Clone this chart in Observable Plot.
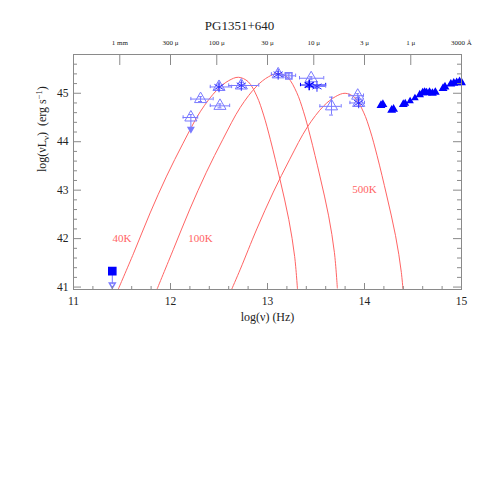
<!DOCTYPE html>
<html><head><meta charset="utf-8">
<script src="https://cdn.jsdelivr.net/npm/d3@7"></script>
<script src="https://cdn.jsdelivr.net/npm/@observablehq/plot@0.6"></script>
<style>body{margin:0;background:#fff}</style>
</head><body><div id="chart"></div>
<script>
// ---- axis definitions ----
const xDomain = [11, 15];
const yDomain = [40.95, 45.8];
const xMajor = [11, 12, 13, 14, 15];
const yMajor = [41, 42, 43, 44, 45];
const wlPos = [11.477, 12, 12.477, 13, 13.477, 14, 14.477, 15];
const wlLabels = ["1 mm", "300 \u03bc", "100 \u03bc", "30 \u03bc", "10 \u03bc", "3 \u03bc", "1 \u03bc", "3000 \u00c5"];

// ---- blackbody model curves ----
const bb40X = [11.46, 11.62, 11.79, 11.96, 12.13, 12.31, 12.48, 12.60, 12.70, 12.80, 12.89, 12.96, 13.03, 13.13, 13.22, 13.28, 13.31];
const bb40Y = [40.95, 41.70, 42.53, 43.29, 43.97, 44.63, 45.07, 45.26, 45.33, 45.24, 44.94, 44.55, 44.04, 43.21, 42.39, 41.63, 40.93];
const bb100X = [11.86, 12.03, 12.20, 12.37, 12.54, 12.72, 12.89, 13.01, 13.11, 13.21, 13.30, 13.37, 13.44, 13.54, 13.63, 13.69, 13.72];
const bb100Y = [40.95, 41.78, 42.61, 43.37, 44.05, 44.71, 45.15, 45.34, 45.41, 45.32, 45.02, 44.63, 44.12, 43.29, 42.47, 41.71, 40.98];
const bb500X = [12.63, 12.72, 12.89, 13.06, 13.23, 13.41, 13.58, 13.70, 13.80, 13.90, 13.99, 14.06, 14.13, 14.23, 14.32, 14.38, 14.41];
const bb500Y = [40.95, 41.37, 42.20, 42.96, 43.64, 44.30, 44.74, 44.93, 45.00, 44.91, 44.61, 44.22, 43.71, 42.88, 42.06, 41.30, 40.60];
const bbNames = ["40K", "100K", "500K"];
const bbLabelX = [11.50, 12.31, 14.00];
const bbLabelY = [42.01, 42.00, 43.01];

// ---- IR photometry with error bars ----
const irNu   = [12.21, 12.31, 12.51, 12.50, 12.73, 13.11, 13.22, 13.45, 13.43, 13.51, 13.66, 13.93, 13.94];
const irL    = [44.50, 44.88, 44.74, 45.13, 45.16, 45.39, 45.36, 45.31, 45.17, 45.14, 44.73, 44.95, 44.80];
const irNuLo = [12.13, 12.21, 12.41, 12.41, 12.60, 13.04, 13.15, 13.33, 13.34, 13.45, 13.54, 13.84, 13.85];
const irNuHi = [12.28, 12.44, 12.61, 12.63, 12.91, 13.18, 13.29, 13.58, 13.60, 13.60, 13.76, 13.99, 14.00];
const irLLo  = [44.26, 44.83, 44.70, 45.07, 45.10, 45.33, 45.32, 45.28, 45.12, 45.10, 44.55, 44.91, 44.74];
const irLHi  = [44.56, 44.93, 44.78, 45.19, 45.22, 45.45, 45.40, 45.34, 45.22, 45.18, 44.92, 44.99, 44.86];
const irMark = ["tri", "tri", "tri", "both", "both", "both", "sq", "tri", "dark", "star", "tri", "tri", "both"];

// ---- optical / UV photometry ----
const optNu = [14.17, 14.19, 14.28, 14.30, 14.40, 14.42, 14.47, 14.52, 14.57, 14.60, 14.62, 14.64, 14.67, 14.70, 14.73, 14.81, 14.83, 14.89, 14.92, 14.95, 14.98, 15.00];
const optL  = [44.75, 44.77, 44.65, 44.67, 44.77, 44.79, 44.84, 44.90, 44.97, 45.01, 45.02, 45.01, 45.02, 45.00, 45.02, 45.10, 45.13, 45.19, 45.21, 45.22, 45.24, 45.22];
const optSize = [4, 4, 4, 4, 4, 3, 2.5, 2.5, 3.5, 4, 4, 4, 4, 4, 4, 4, 4, 4, 4, 4, 4, 4];

// ---- radio upper limit ----
const limNu = [11.40];
const limL = [41.33];
const limTo = [41.05];

const W = 485, H = 485, mL = 73, mR = 24, mT = 54, mB = 196;
const fw = W - mL - mR, fh = H - mT - mB;
const red = "#ff6464", light = "#7a7aff", blue = "#0000ff", grey = "#8a8a8a";

const ir = irNu.map((d, i) => ({x: d, y: irL[i], xlo: irNuLo[i], xhi: irNuHi[i], ylo: irLLo[i], yhi: irLHi[i], m: irMark[i]}));
const opt = optNu.map((d, i) => ({x: d, y: optL[i], r: optSize[i]}));
const lim = limNu.map((d, i) => ({x: d, y: limL[i], to: limTo[i]}));
const mk = (X, Y) => X.map((d, i) => ({x: d, y: Y[i]}));
const xMinor = d3.range(11, 15.001, 0.2).filter(v => Math.abs(v - Math.round(v)) > 1e-6);
const yMinor = d3.range(41, 45.81, 0.2).filter(v => Math.abs(v - Math.round(v)) > 1e-6);
const font = "Liberation Serif, DejaVu Serif, serif";

const plot = Plot.plot({
  width: W, height: H,
  marginLeft: mL, marginRight: mR, marginTop: mT, marginBottom: mB,
  x: {domain: xDomain, axis: null},
  y: {domain: yDomain, axis: null},
  style: {fontFamily: font, background: "#fff"},
  marks: [
    // curves
    Plot.line(mk(bb40X, bb40Y), {x: "x", y: "y", stroke: red, strokeWidth: 1, curve: "catmull-rom", clip: true}),
    Plot.line(mk(bb100X, bb100Y), {x: "x", y: "y", stroke: red, strokeWidth: 1, curve: "catmull-rom", clip: true}),
    Plot.line(mk(bb500X, bb500Y), {x: "x", y: "y", stroke: red, strokeWidth: 1, curve: "catmull-rom", clip: true}),
    Plot.text(bbNames, {x: (d, i) => bbLabelX[i], y: (d, i) => bbLabelY[i], text: d => d, fill: red, fontSize: 11}),
    // IR error bars
    Plot.ruleY(ir, {y: "y", x1: "xlo", x2: "xhi", stroke: d => d.m === "dark" ? blue : light, strokeWidth: 1}),
    Plot.ruleX(ir, {x: "xlo", y1: d => d.y - 0.035, y2: d => d.y + 0.035, stroke: d => d.m === "dark" ? blue : light}),
    Plot.ruleX(ir, {x: "xhi", y1: d => d.y - 0.035, y2: d => d.y + 0.035, stroke: d => d.m === "dark" ? blue : light}),
    Plot.ruleX(ir, {x: "x", y1: "ylo", y2: "yhi", stroke: light}),
    Plot.ruleY(ir, {y: "yhi", x1: d => d.x - 0.02, x2: d => d.x + 0.02, stroke: light}),
    Plot.ruleY(ir.filter(d => d.x !== 12.21), {y: "ylo", x1: d => d.x - 0.02, x2: d => d.x + 0.02, stroke: light}),
    Plot.dot(ir.filter(d => d.x === 12.21), {x: "x", y: "ylo", symbol: "triangle", rotate: 180, r: 2, fill: light, stroke: light}),
    // IR markers
    Plot.dot(ir.filter(d => d.m === "tri" || d.m === "both"), {x: "x", y: "y", symbol: "triangle", r: 4.5, stroke: light, fill: "none", strokeWidth: 1}),
    Plot.dot(ir.filter(d => d.m === "sq"), {x: "x", y: "y", symbol: "square", r: 3.5, stroke: light, fill: "none"}),
    Plot.dot(ir.filter(d => d.m === "star" || d.m === "both"), {x: "x", y: "y", symbol: "asterisk", r: 5, stroke: "#3030ff", strokeWidth: 1}),
    Plot.dot(ir.filter(d => d.m === "dark"), {x: "x", y: "y", symbol: "asterisk", r: 5, stroke: blue, strokeWidth: 1.5}),
    // optical / UV
    Plot.dot(opt, {x: "x", y: "y", symbol: "triangle2", r: "r", fill: blue, stroke: blue}),
    // radio upper limit
    Plot.ruleX(lim, {x: "x", y1: "y", y2: "to", stroke: light}),
    Plot.dot(lim, {x: "x", y: "to", symbol: "triangle", rotate: 180, r: 2.2, stroke: light, fill: "none"}),
    Plot.dot(lim, {x: "x", y: "y", symbol: "square", r: 4, fill: blue, stroke: blue}),
    // frame and ticks
    Plot.frame({stroke: grey}),
    Plot.ruleX(xMajor, {x: d => d, insetTop: fh - 6, stroke: grey}),
    Plot.ruleX(xMinor, {x: d => d, insetTop: fh - 3, stroke: grey}),
    Plot.ruleX(wlPos, {x: d => d, insetBottom: fh - 11, stroke: grey}),
    Plot.ruleY(yMajor, {y: d => d, insetRight: fw - 8, stroke: grey}),
    Plot.ruleY(yMinor, {y: d => d, insetRight: fw - 4, stroke: grey}),
    Plot.ruleY(yMajor, {y: d => d, insetLeft: fw - 8, stroke: grey}),
    Plot.ruleY(yMinor, {y: d => d, insetLeft: fw - 4, stroke: grey}),
    // tick labels
    Plot.text(xMajor, {x: d => d, frameAnchor: "bottom", dy: 15, text: d => String(d), fontSize: 11.5, fill: "#222"}),
    Plot.text(yMajor, {y: d => d, frameAnchor: "left", dx: -5, textAnchor: "end", text: d => String(d), fontSize: 11.5, fill: "#222"}),
    Plot.text(wlLabels, {x: (d, i) => wlPos[i], frameAnchor: "top", dy: -14, text: d => d, fontSize: 7, fill: "#222"}),
    // titles
    Plot.text(["PG1351+640"], {frameAnchor: "top", dx: -28, dy: -34, text: d => d, fontSize: 13, fill: "#222"}),
    Plot.text(["log(\u03bd) (Hz)"], {frameAnchor: "bottom", dy: 31, text: d => d, fontSize: 12, fill: "#222"}),
    Plot.text(["YLABEL"], {frameAnchor: "left", dx: -31, rotate: -90, text: d => d, fontSize: 12, fill: "#222"})
  ]
});
document.getElementById("chart").appendChild(plot);
plot.querySelectorAll("text").forEach(t => {
  if (t.textContent === "YLABEL") {
    t.innerHTML = 'log(\u03bdL<tspan dy="3" font-size="8.5">\u03bd</tspan><tspan dy="-3">)  (erg s</tspan><tspan dy="-4" font-size="8.5">\u22121</tspan><tspan dy="4">)</tspan>';
    t.setAttribute("xml:space", "preserve");
    t.style.whiteSpace = "pre";
  }
});
</script>
</body></html>
